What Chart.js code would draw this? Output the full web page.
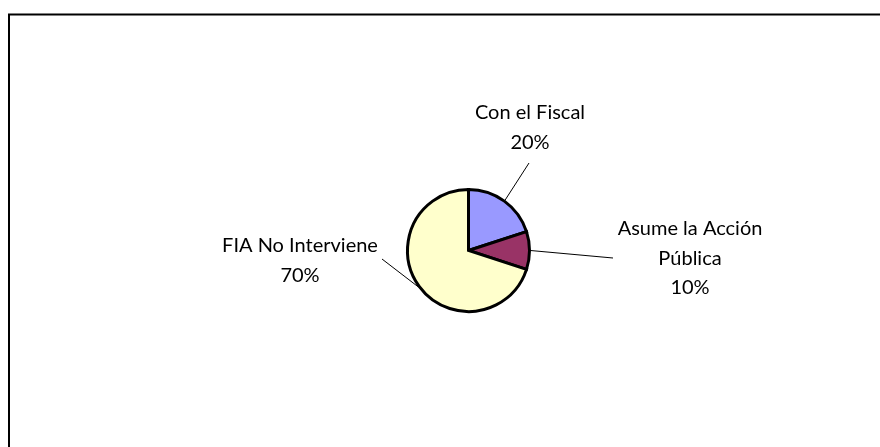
<!DOCTYPE html>
<html>
<head>
<meta charset="utf-8">
<script src="https://cdn.jsdelivr.net/npm/chart.js@4/dist/chart.umd.min.js"></script>
<style>
  html, body { margin: 0; padding: 0; background: #fff; }
  #wrap { width: 880px; height: 447px; position: relative; }
</style>
</head>
<body>
<div id="wrap"><canvas id="pie"></canvas></div>
<script>
const categories = ["Con el Fiscal", "Asume la Acción Pública", "FIA No Interviene"];
const values = [20, 10, 70];
const labelLines = [["Con el Fiscal"], ["Asume la Acción", "Pública"], ["FIA No Interviene"]];
const colors = ["#9999FF", "#993366", "#FFFFCC"];

// where each label block sits, relative to the pie centre (px), and where its leader ends
const labelPlace = [
  { dx: 61.5, dy: -123, lx: 60.5, ly: -87.5 },
  { dx: 221.5, dy: 8, lx: 144.5, ly: 7.5 },
  { dx: -168.5, dy: 10, lx: -86.5, ly: 8.5 },
];

const FONT = "20px Lato, 'Open Sans', sans-serif";
const LINE_H = 29.5;

const framePlugin = {
  id: "frame",
  beforeDraw(chart) {
    const ctx = chart.ctx;
    ctx.save();
    ctx.strokeStyle = "#000";
    ctx.lineWidth = 2;
    ctx.beginPath();
    ctx.moveTo(9, 447);
    ctx.lineTo(9, 14.5);
    ctx.lineTo(880, 14.5);
    ctx.stroke();
    ctx.restore();
  },
};

const labelPlugin = {
  id: "sliceLabels",
  afterDraw(chart) {
    const ctx = chart.ctx;
    const total = values.reduce((a, b) => a + b, 0);
    const arcs = chart.getDatasetMeta(0).data;
    ctx.save();
    arcs.forEach((arc, i) => {
      const { x, y, startAngle, endAngle, outerRadius } = arc.getProps(["x", "y", "startAngle", "endAngle", "outerRadius"], true);
      const mid = (startAngle + endAngle) / 2;
      const sx = x + Math.cos(mid) * (outerRadius + 1);
      const sy = y + Math.sin(mid) * (outerRadius + 1);
      const p = labelPlace[i];

      ctx.strokeStyle = "#000";
      ctx.lineWidth = 1;
      ctx.beginPath();
      ctx.moveTo(sx, sy);
      ctx.lineTo(x + p.lx, y + p.ly);
      ctx.stroke();

      const lines = labelLines[i].concat([Math.round(values[i] / total * 100) + "%"]);
      ctx.fillStyle = "#000";
      ctx.font = FONT;
      ctx.textAlign = "center";
      ctx.textBaseline = "middle";
      const top = y + p.dy - (lines.length - 1) * LINE_H / 2;
      lines.forEach((t, k) => ctx.fillText(t, x + p.dx, top + k * LINE_H));
    });
    ctx.restore();
  },
};

new Chart(document.getElementById("pie"), {
  type: "pie",
  data: {
    labels: categories,
    datasets: [{
      data: values,
      backgroundColor: colors,
      borderColor: "#000",
      borderWidth: 3,
      borderJoinStyle: "miter",
    }],
  },
  options: {
    responsive: true,
    maintainAspectRatio: false,
    animation: false,
    radius: 61,
    layout: { padding: { left: 157, right: 100, top: 104, bottom: 50 } },
    plugins: {
      legend: { display: false },
      tooltip: { enabled: false },
    },
  },
  plugins: [framePlugin, labelPlugin],
});
</script>
</body>
</html>
